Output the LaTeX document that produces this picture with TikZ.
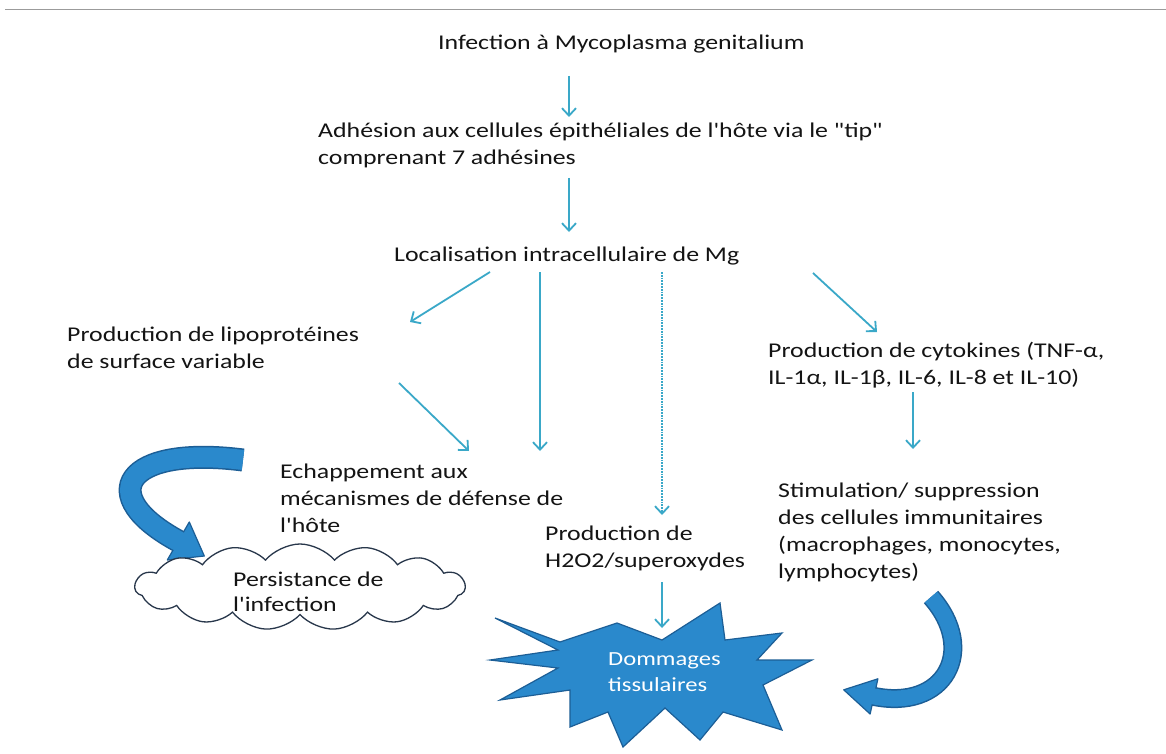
\documentclass[tikz,border=0pt]{standalone}
\usepackage{fontspec}
\setmainfont{Carlito}[FakeStretch=1.23, Ligatures=TeXOff]
\usetikzlibrary{shapes.symbols, calc, arrows.meta}
\definecolor{txt}{RGB}{20,20,20}
\definecolor{conncol}{RGB}{58,168,200}
\definecolor{bl}{RGB}{42,137,204}
\definecolor{dk}{RGB}{28,94,150}
\definecolor{cloudline}{RGB}{40,55,75}
\definecolor{rule}{RGB}{155,155,155}
\begin{document}
\begin{tikzpicture}[x=1pt,y=-1pt,
  lbl/.style={anchor=north west, inner sep=0pt, align=left, text=txt, font=\fontsize{21}{27}\selectfont},
  conn/.style={draw=conncol, line width=1.8pt, -{Straight Barb[length=7.5pt,width=14pt]}},
  connd/.style={conn, densely dotted},
  headstyle/.style={fill=bl, draw=dk, line width=1.2pt, line join=round},
]
\useasboundingbox (0,0) rectangle (1166,754);
\fill[white] (0,0) rectangle (1166,754);
\draw[rule, line width=1.8pt] (5,9.5) -- (1166,9.5);

% text nodes
\node[lbl] (infect) at (438,35) {Infection à Mycoplasma genitalium};
\node[lbl] (adh) at (318,123) {Adhésion aux cellules épithéliales de l'hôte via le "tip"\\comprenant 7 adhésines};
\node[lbl] (loc) at (394,247) {Localisation intracellulaire de Mg};
\node[lbl] (lipo) at (67,327) {Production de lipoprotéines\\de surface variable};
\node[lbl] (cyto) at (768,342) {Production de cytokines (TNF-α,\\IL-1α, IL-1β, IL-6, IL-8 et IL-10)};
\node[lbl] (echap) at (280,464) {Echappement aux\\mécanismes de défense de\\l'hôte};
\node[lbl] (h2o2) at (545,526) {Production de\\H2O2/superoxydes};
\node[lbl] (stim) at (778,483) {Stimulation/ suppression\\des cellules immunitaires\\(macrophages, monocytes,\\lymphocytes)};

% big curved arrow (upper left)
\draw[dk, line width=23pt] (243,460) .. controls (125,445) and (92,495) .. (180,542);
\filldraw[headstyle] (189.3,522) -- (204.3,556) -- (167.3,560) -- cycle;
\draw[bl, line width=20pt] (243,460) .. controls (125,445) and (92,495) .. (180,542);

% cloud
\node[cloud, draw=cloudline, fill=white, line width=1.3pt, cloud puffs=15, cloud puff arc=100, aspect=4, minimum width=330pt, minimum height=86pt, inner sep=0pt] (cloud) at (300,587) {};
\node[lbl, font=\fontsize{21}{25}\selectfont] (persist) at (233,572) {Persistance de\\l'infection};

% star
\filldraw[fill=bl, draw=dk, line width=1.2pt, line join=miter]
  (495,618) -- (560,642) -- (617,623) -- (662,640) -- (720,603) -- (725,640) -- (782,633)
  -- (757,660) -- (812,660) -- (763,685) -- (782,730) -- (723,712) -- (700,740) -- (665,708)
  -- (623,747) -- (608,712) -- (570,727) -- (570,690) -- (500,700) -- (558,668) -- (490,660)
  -- (558,650) -- cycle;
\node[lbl, text=white, font=\fontsize{20}{26}\selectfont] (dmg) at (608,652) {Dommages\\tissulaires};

% bottom right curved arrow
\draw[dk, line width=19pt] (931,597) .. controls (978,650) and (945,712) .. (872,696);
\filldraw[headstyle] (877.9,678.8) -- (843.7,689.8) -- (870.1,714) -- cycle;
\draw[bl, line width=16pt] (931,597) .. controls (978,650) and (945,712) .. (872,696);

% connectors
\draw[conn] ($(infect.north west)+(131,41)$) -- ($(adh.north west)+(251,-6)$);
\draw[conn] ($(adh.north west)+(251,55)$) -- ($(loc.north west)+(175,-15)$);
\draw[conn] ($(loc.north west)+(96,25)$) -- ($(lipo.north west)+(343,-5)$);
\draw[conn] ($(loc.north west)+(146,25)$) -- ($(echap.north west)+(260,-13)$);
\draw[connd] ($(loc.north west)+(268,25)$) -- ($(h2o2.north west)+(117,-11)$);
\draw[conn] ($(loc.north west)+(419,26)$) -- ($(cyto.north west)+(109,-10)$);
\draw[conn] ($(lipo.north west)+(332,56)$) -- ($(echap.north west)+(189,-13)$);
\draw[conn] ($(cyto.north west)+(145,50)$) -- ($(stim.north west)+(135,-34)$);
\draw[conn] ($(h2o2.north west)+(117,56)$) -- ($(dmg.north west)+(54,-24)$);
\end{tikzpicture}
\end{document}
